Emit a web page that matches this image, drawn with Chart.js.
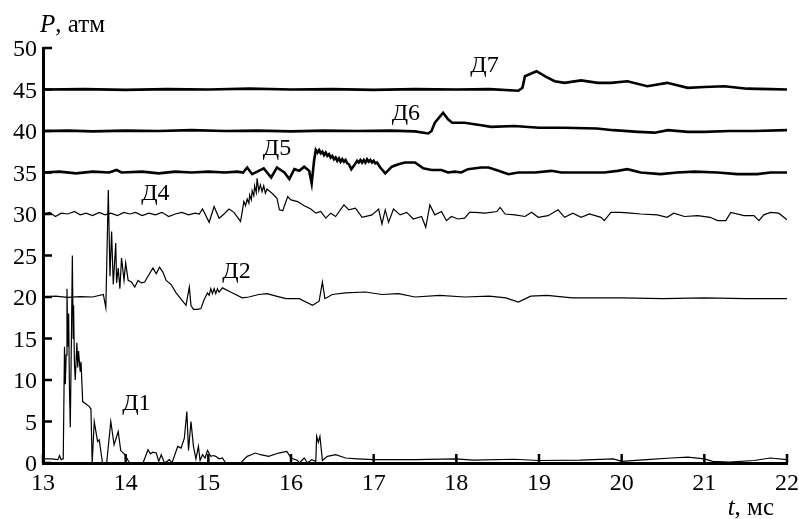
<!DOCTYPE html>
<html>
<head>
<meta charset="utf-8">
<script src="https://cdn.jsdelivr.net/npm/chart.js@4.4.1/dist/chart.umd.min.js"></script>
<style>
html, body { margin: 0; padding: 0; background: #fff; }
#wrap { width: 799px; height: 519px; }
</style>
</head>
<body>
<div id="wrap"><canvas id="chart" width="799" height="519"></canvas></div>
<script>
// время, мс / давление, атм — точки
const xTickVals = [13, 14, 15, 16, 17, 18, 19, 20, 21, 22];
const yTickVals = [0, 5, 10, 15, 20, 25, 30, 35, 40, 45, 50];

const d1 = [[13.00,0.5],[13.10,0.5],[13.18,0.4],[13.20,0.9],[13.22,0.4],[13.245,0.5],[13.26,14.0],[13.27,9.5],[13.28,13.0],[13.29,21.0],[13.30,14.0],[13.31,18.0],[13.32,9.0],[13.33,4.3],[13.345,16.0],[13.355,25.0],[13.365,15.0],[13.37,19.0],[13.38,12.0],[13.39,10.0],[13.41,14.5],[13.42,11.5],[13.43,13.5],[13.45,11.0],[13.46,12.2],[13.48,7.4],[13.52,7.1],[13.56,6.8],[13.58,6.5],[13.595,0.0],[13.62,5.0],[13.66,2.6],[13.68,2.8],[13.72,0.0],[13.77,0.0],[13.82,5.0],[13.86,2.2],[13.91,3.8],[13.94,1.5],[13.99,1.0],[14.03,0.3],[14.05,0.0],[14.21,0.0],[14.27,1.6],[14.30,1.1],[14.33,1.3],[14.37,1.2],[14.40,0.2],[14.43,1.0],[14.47,0.0],[14.53,0.4],[14.56,0.0],[14.63,2.0],[14.67,1.8],[14.71,3.0],[14.74,6.2],[14.76,1.5],[14.79,5.0],[14.82,2.0],[14.85,0.5],[14.88,2.0],[14.90,0.3],[14.93,1.0],[14.96,0.6],[14.99,1.5],[15.03,0.8],[15.06,0.9],[15.09,0.8],[15.13,0.5],[15.17,0.6],[15.21,0.0],[15.39,0.0],[15.47,0.8],[15.52,1.0],[15.57,1.2],[15.63,1.0],[15.73,0.8],[15.85,1.2],[15.95,1.4],[16.00,0.6],[16.08,0.3],[16.10,0.0],[16.16,0.6],[16.20,0.0],[16.25,0.4],[16.30,0.2],[16.31,3.2],[16.33,2.5],[16.35,3.2],[16.38,0.3],[16.44,0.8],[16.54,1.0],[16.66,0.6],[16.80,0.5],[17.00,0.4],[17.50,0.4],[18.00,0.5],[18.20,0.35],[18.70,0.45],[19.00,0.3],[19.50,0.35],[19.90,0.5],[20.00,0.2],[20.30,0.4],[20.60,0.6],[20.80,0.7],[21.00,0.5],[21.10,0.2],[21.30,0.1],[21.60,0.3],[21.80,0.6],[22.00,0.4]];

const d2 = [[13.00,20.0],[13.15,20.1],[13.30,19.95],[13.45,20.05],[13.60,20.0],[13.73,20.3],[13.76,18.7],[13.79,32.9],[13.81,22.5],[13.83,27.9],[13.85,21.5],[13.88,26.5],[13.89,21.7],[13.91,23.5],[13.93,21.0],[13.95,24.7],[13.98,22.0],[14.00,24.1],[14.03,22.0],[14.07,21.8],[14.11,21.2],[14.15,22.0],[14.19,21.7],[14.23,21.8],[14.27,22.5],[14.33,23.5],[14.37,22.8],[14.41,23.6],[14.45,23.0],[14.49,22.0],[14.55,21.5],[14.61,20.5],[14.69,19.5],[14.73,19.0],[14.77,21.2],[14.79,19.0],[14.82,18.5],[14.87,18.5],[14.91,18.6],[14.95,19.7],[14.99,20.5],[15.01,20.2],[15.03,21.0],[15.05,20.4],[15.07,21.0],[15.09,20.4],[15.11,21.0],[15.13,20.6],[15.17,21.1],[15.25,20.7],[15.33,20.3],[15.41,19.9],[15.49,20.0],[15.61,20.3],[15.71,20.4],[15.82,20.1],[15.94,19.8],[16.10,19.8],[16.26,19.0],[16.34,19.5],[16.38,21.8],[16.41,19.8],[16.50,20.3],[16.66,20.5],[16.90,20.6],[17.10,20.3],[17.30,20.4],[17.50,20.0],[17.80,20.2],[18.10,20.0],[18.40,20.1],[18.60,19.9],[18.75,19.4],[18.90,20.1],[19.10,20.2],[19.40,19.9],[20.00,19.9],[20.50,19.8],[21.00,19.9],[21.50,19.8],[22.00,19.8]];

const d4 = [[13.00,30.0],[13.08,30.2],[13.15,29.7],[13.22,30.1],[13.30,30.0],[13.38,30.3],[13.45,29.9],[13.52,30.1],[13.60,29.8],[13.68,30.2],[13.75,29.9],[13.82,30.1],[13.90,29.8],[13.98,30.2],[14.05,30.0],[14.12,30.2],[14.20,29.8],[14.28,30.1],[14.36,29.9],[14.44,30.2],[14.52,29.7],[14.60,30.0],[14.68,30.2],[14.76,29.9],[14.84,30.1],[14.89,30.0],[14.93,30.6],[15.01,29.0],[15.07,30.9],[15.13,29.5],[15.19,30.0],[15.25,30.6],[15.31,30.2],[15.39,29.1],[15.43,31.5],[15.45,31.0],[15.47,31.8],[15.49,31.3],[15.50,32.3],[15.52,31.7],[15.53,32.8],[15.55,32.2],[15.56,33.4],[15.58,32.6],[15.59,34.3],[15.61,32.8],[15.63,33.5],[15.65,32.7],[15.67,33.4],[15.69,32.5],[15.71,33.0],[15.76,32.6],[15.80,32.2],[15.83,31.9],[15.86,30.5],[15.90,30.4],[15.96,32.1],[16.00,31.7],[16.08,31.5],[16.16,31.0],[16.24,30.6],[16.30,30.1],[16.36,30.3],[16.42,29.5],[16.48,30.1],[16.54,29.7],[16.64,31.1],[16.70,30.5],[16.78,30.7],[16.86,29.6],[16.98,29.9],[17.06,30.6],[17.10,28.8],[17.14,30.5],[17.18,29.0],[17.24,30.6],[17.32,29.9],[17.40,30.2],[17.48,29.4],[17.58,29.7],[17.63,28.4],[17.68,31.1],[17.74,29.9],[17.82,30.3],[17.88,29.2],[17.94,29.7],[18.02,29.4],[18.10,29.5],[18.16,30.2],[18.23,30.2],[18.35,30.1],[18.49,30.3],[18.53,30.8],[18.59,30.0],[18.71,29.9],[18.83,29.7],[18.91,30.2],[18.99,29.6],[19.11,29.8],[19.23,30.5],[19.31,29.6],[19.41,30.1],[19.51,29.6],[19.61,30.0],[19.75,29.6],[19.79,29.2],[19.87,30.2],[19.99,30.2],[20.11,30.1],[20.23,30.0],[20.43,29.9],[20.55,29.6],[20.63,30.1],[20.76,29.7],[20.92,29.8],[21.07,29.6],[21.16,29.2],[21.26,29.2],[21.32,30.2],[21.48,29.8],[21.60,29.8],[21.66,29.2],[21.72,29.9],[21.80,30.2],[21.90,30.1],[22.00,29.3]];

const d5 = [[13.00,35.0],[13.20,35.1],[13.40,34.9],[13.60,35.1],[13.80,35.0],[13.89,35.3],[13.95,35.0],[14.20,35.1],[14.40,34.9],[14.60,35.1],[14.80,35.0],[15.00,35.1],[15.20,35.0],[15.35,35.1],[15.42,35.0],[15.47,35.6],[15.53,34.8],[15.61,35.2],[15.67,35.5],[15.76,34.4],[15.83,35.6],[15.92,35.0],[15.98,34.2],[16.04,35.4],[16.10,35.2],[16.16,35.7],[16.22,35.2],[16.25,33.7],[16.28,36.5],[16.30,37.7],[16.32,37.4],[16.34,37.7],[16.36,37.3],[16.38,37.5],[16.40,37.1],[16.42,37.4],[16.44,37.0],[16.46,37.2],[16.48,36.8],[16.50,37.0],[16.52,36.6],[16.54,36.8],[16.56,36.4],[16.58,36.7],[16.60,36.3],[16.62,36.6],[16.64,36.3],[16.66,36.5],[16.68,36.1],[16.70,36.0],[16.73,35.4],[16.76,35.8],[16.78,36.1],[16.80,36.4],[16.82,36.2],[16.84,36.5],[16.86,36.2],[16.88,36.5],[16.90,36.2],[16.92,36.6],[16.94,36.3],[16.96,36.5],[16.98,36.2],[17.00,36.4],[17.02,36.1],[17.04,36.2],[17.08,35.6],[17.14,34.9],[17.22,35.7],[17.30,36.0],[17.38,36.2],[17.50,36.2],[17.60,35.5],[17.70,35.3],[17.82,35.3],[17.90,35.0],[17.98,35.1],[18.06,35.0],[18.14,35.4],[18.30,35.6],[18.39,35.6],[18.51,35.2],[18.63,34.8],[18.75,35.0],[18.95,35.0],[19.15,35.2],[19.27,35.0],[19.51,35.0],[19.79,35.0],[19.95,35.2],[20.07,35.4],[20.23,35.0],[20.47,34.8],[20.67,35.0],[20.88,35.1],[21.16,35.0],[21.40,34.8],[21.64,34.8],[21.80,35.0],[22.00,35.0]];

const d6 = [[13.00,40.0],[13.30,40.05],[13.60,39.95],[14.00,40.05],[14.40,40.0],[14.80,40.1],[15.20,40.0],[15.60,40.05],[16.00,39.95],[16.40,40.05],[16.80,40.0],[17.20,40.05],[17.50,39.95],[17.66,39.7],[17.70,40.0],[17.74,41.0],[17.84,42.2],[17.90,41.4],[17.95,41.0],[18.10,41.0],[18.30,40.7],[18.42,40.5],[18.70,40.6],[19.00,40.4],[19.30,40.4],[19.70,40.3],[19.90,40.1],[20.20,39.9],[20.40,39.8],[20.56,40.1],[20.80,39.9],[21.00,39.9],[21.30,40.0],[21.60,40.0],[22.00,40.1]];

const d7 = [[13.00,45.0],[13.50,45.05],[14.00,44.95],[14.50,45.05],[15.00,45.0],[15.50,45.1],[16.00,45.0],[16.50,45.05],[17.00,44.95],[17.50,45.05],[18.00,45.0],[18.40,45.05],[18.75,44.85],[18.80,45.2],[18.83,46.6],[18.90,46.9],[18.97,47.2],[19.07,46.6],[19.19,46.0],[19.31,45.8],[19.51,46.1],[19.71,45.8],[19.87,45.8],[20.07,46.0],[20.31,45.4],[20.55,45.8],[20.80,45.2],[21.00,45.3],[21.24,45.4],[21.52,45.1],[21.80,45.05],[22.00,45.0]];

const seriesNames = ['Д1', 'Д2', 'Д4', 'Д5', 'Д6', 'Д7'];
const labelT = [14.13, 15.34, 14.36, 15.83, 17.39, 18.34];
const labelP = [6.4, 22.3, 31.7, 37.1, 41.3, 47.1];

// Chart.js не подхватывает Liberation Serif для меток шкал, поэтому весь текст рисуем сами
const SERIF = '"Liberation Serif"';

function toPoints(arr) {
    return arr.map(function (p) { return { x: p[0], y: p[1] }; });
}

function ds(arr, w) {
    return {
        data: toPoints(arr),
        borderColor: '#000',
        borderWidth: w,
        pointRadius: 0,
        tension: 0,
        fill: false,
    };
}

const decor = {
    id: 'decor',
    afterDraw: function (chart) {
        const ctx = chart.ctx;
        const xs = chart.scales.x;
        const ys = chart.scales.y;
        const a = chart.chartArea;
        ctx.save();

        // засечки внутрь
        ctx.strokeStyle = '#000';
        ctx.lineWidth = 2.5;
        ctx.beginPath();
        xTickVals.forEach(function (v) {
            const px = xs.getPixelForValue(v);
            ctx.moveTo(px, a.bottom);
            ctx.lineTo(px, a.bottom - 9);
        });
        yTickVals.forEach(function (v) {
            const py = ys.getPixelForValue(v);
            ctx.moveTo(a.left, py);
            ctx.lineTo(a.left + 9, py);
        });
        ctx.stroke();

        ctx.fillStyle = '#000';
        ctx.font = '24px ' + SERIF;
        ctx.textBaseline = 'alphabetic';

        // подписи шкал
        ctx.textAlign = 'center';
        xTickVals.forEach(function (v) {
            ctx.fillText(String(v), xs.getPixelForValue(v), a.bottom + 27);
        });
        ctx.textAlign = 'right';
        yTickVals.forEach(function (v) {
            ctx.fillText(String(v), a.left - 6, ys.getPixelForValue(v) + 8);
        });

        // подписи датчиков
        ctx.textAlign = 'center';
        seriesNames.forEach(function (s, i) {
            ctx.fillText(s, xs.getPixelForValue(labelT[i]), ys.getPixelForValue(labelP[i]));
        });

        // подписи осей
        ctx.textAlign = 'left';
        ctx.font = 'italic 25px ' + SERIF;
        ctx.fillText('P', 40, 32);
        const pw = ctx.measureText('P').width;
        ctx.font = '25px ' + SERIF;
        ctx.fillText(', атм', 40 + pw, 32);

        const rest = ', мс';
        const rw = ctx.measureText(rest).width;
        ctx.font = 'italic 25px ' + SERIF;
        const tw = ctx.measureText('t').width;
        const x0 = 774 - rw - tw;
        ctx.fillText('t', x0, 515);
        ctx.font = '25px ' + SERIF;
        ctx.fillText(rest, x0 + tw, 515);
        ctx.restore();
    },
};

new Chart(document.getElementById('chart'), {
    type: 'line',
    data: {
        datasets: [ds(d1, 1.2), ds(d2, 1.2), ds(d4, 1.2), ds(d5, 2.6), ds(d6, 2.6), ds(d7, 2.6)],
    },
    options: {
        responsive: false,
        animation: false,
        layout: { padding: { top: 48, right: 12, left: 0, bottom: 0 } },
        plugins: { legend: { display: false }, tooltip: { enabled: false } },
        scales: {
            x: {
                type: 'linear',
                min: 13,
                max: 22,
                afterBuildTicks: function (s) { s.ticks = xTickVals.map(function (v) { return { value: v }; }); },
                afterFit: function (s) { s.height = 56; },
                ticks: { display: false },
                grid: { display: false, drawTicks: false },
                border: { display: true, color: '#000', width: 3 },
            },
            y: {
                min: 0,
                max: 50,
                afterBuildTicks: function (s) { s.ticks = yTickVals.map(function (v) { return { value: v }; }); },
                afterFit: function (s) { s.width = 43; },
                ticks: { display: false },
                grid: { display: false, drawTicks: false },
                border: { display: true, color: '#000', width: 3 },
            },
        },
    },
    plugins: [decor],
});
</script>
</body>
</html>
